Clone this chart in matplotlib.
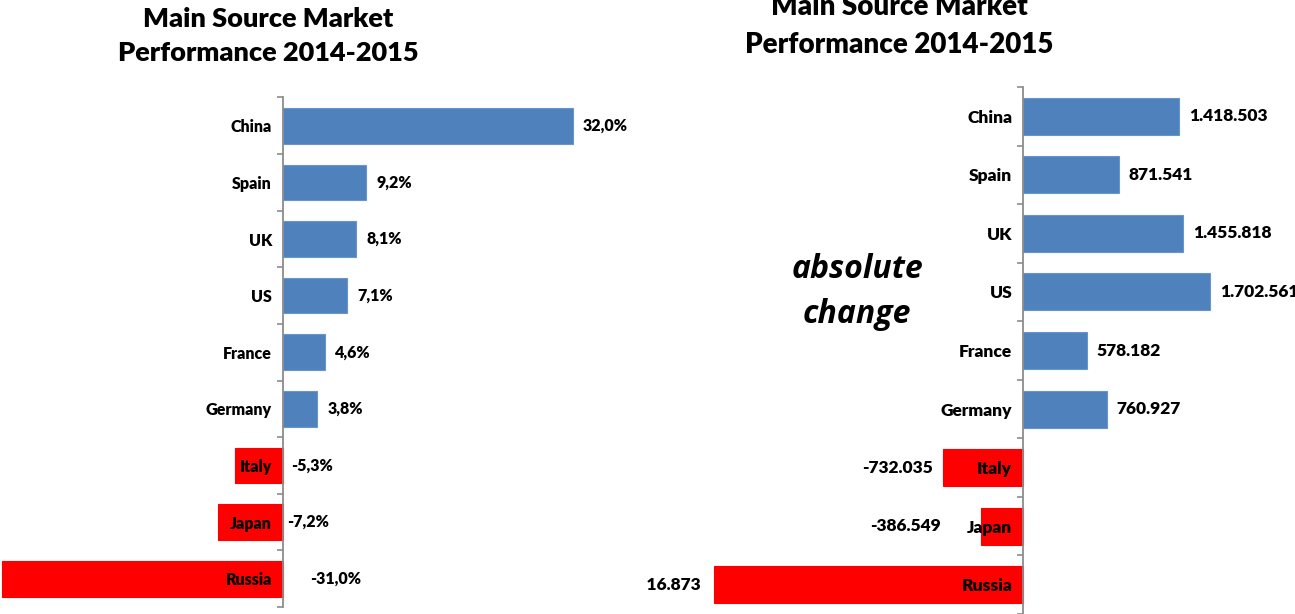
import numpy as np
import matplotlib.pyplot as plt

markets = ['China', 'Spain', 'UK', 'US', 'France', 'Germany', 'Italy', 'Japan', 'Russia']
pct_change = [32.0, 9.2, 8.1, 7.1, 4.6, 3.8, -5.3, -7.2, -31.0]
abs_change = [1418503, 871541, 1455818, 1702561, 578182, 760927, -732035, -386549, -2816873]

title = 'Main Source Market\nPerformance 2014-2015'
blue = '#4F81BD'
red = '#FF0000'
axis_grey = '#8C8C8C'
font = ['Lato', 'DejaVu Sans']

plt.rcParams['font.family'] = font

W, H = 1295, 614
fig = plt.figure(figsize=(W / 100, H / 100), dpi=100)


def setup_axis(ax, n):
    for s in ['top', 'right', 'bottom']:
        ax.spines[s].set_visible(False)
    ax.spines['left'].set_position(('data', 0))
    ax.spines['left'].set_color(axis_grey)
    ax.spines['left'].set_linewidth(1.3)
    ax.set_xticks([])
    ax.set_yticks(np.arange(n))
    ax.set_yticks(np.arange(n + 1) - 0.5, minor=True)
    ax.tick_params(axis='y', which='major', length=0, pad=8)
    ax.tick_params(axis='y', which='minor', length=4, direction='out',
                   color=axis_grey, width=1.2)
    ax.set_ylim(n - 0.5, -0.5)


def draw_panel(ax, values, fmt, label_size, neg_offsets, from_axis):
    y = np.arange(len(markets))
    colors = [blue if v > 0 else red for v in values]
    edges = ['#6A95C9' if v > 0 else red for v in values]
    ax.barh(y, values, height=0.63, color=colors, edgecolor=edges, linewidth=0.8)
    setup_axis(ax, len(markets))
    ax.set_yticklabels(markets, fontsize=label_size, fontweight='heavy')
    for i, v in enumerate(values):
        if v > 0:
            t = ax.annotate(fmt(v), (v, i), xytext=(10, 0), textcoords='offset pixels',
                            ha='left', va='center', fontsize=label_size, fontweight='heavy')
        elif from_axis:
            t = ax.annotate(fmt(v), (0, i), xytext=(neg_offsets[i], 0), textcoords='offset pixels',
                            ha='left', va='center', fontsize=label_size, fontweight='heavy')
        else:
            t = ax.annotate(fmt(v), (v, i), xytext=(neg_offsets[i], 0), textcoords='offset pixels',
                            ha='right', va='center', fontsize=label_size, fontweight='heavy')
        t.set_clip_box(ax.bbox)
        t.set_clip_on(True)


# left panel: percentage change
ax1 = fig.add_axes([0, 1 - 607 / H, 640 / W, (607 - 97.5) / H])
ax1.set_xlim(-31.24, 39.4)
draw_panel(ax1, pct_change, lambda v: f'{v:.1f}%'.replace('.', ','), 11.5,
           {6: 8, 7: 4, 8: 27}, True)

# right panel: absolute change
ax2 = fig.add_axes([646 / W, 0, 649 / W, (614 - 87) / H])
ax2.set_xlim(-3.440e6, 2.478e6)
draw_panel(ax2, abs_change, lambda v: f'{v:,}'.replace(',', '.'), 12.5,
           {6: -10, 7: -40, 8: -14}, False)

fig.text(268 / W, 1 - 36 / H, title, ha='center', va='center', fontsize=19.5,
         fontweight='heavy', linespacing=1.5)
fig.text(899 / W, 1 - 26 / H, title, ha='center', va='center', fontsize=20,
         fontweight='heavy', linespacing=1.55)
fig.text(857 / W, 1 - 292 / H, 'absolute\nchange', ha='center', va='center',
         fontsize=23, fontweight='bold', style='italic', linespacing=1.45,
         family=['Open Sans', 'DejaVu Sans'])

fig.savefig('out.png', dpi=100)
